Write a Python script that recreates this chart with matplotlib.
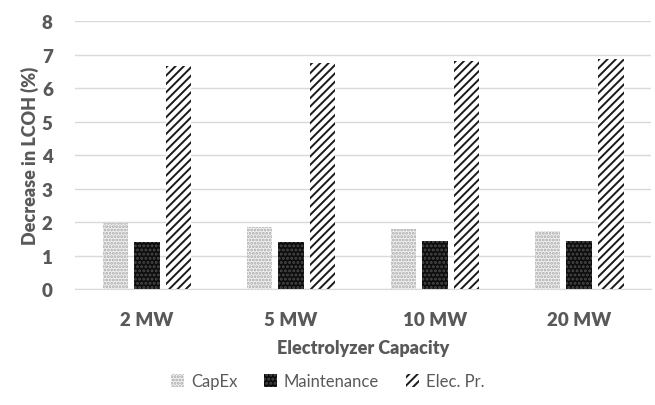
import numpy as np
import matplotlib
matplotlib.use('Agg')
import matplotlib.pyplot as plt

# data
capacities = ['2 MW', '5 MW', '10 MW', '20 MW']
capex = [1.98, 1.85, 1.80, 1.72]
maintenance = [1.40, 1.40, 1.42, 1.44]
elec_price = [6.65, 6.75, 6.81, 6.86]
series_names = ['CapEx', 'Maintenance', 'Elec. Pr.']

plt.rcParams['font.family'] = ['Lato', 'DejaVu Sans']
plt.rcParams['hatch.linewidth'] = 1.4
grey = '#595959'

fig = plt.figure(figsize=(6.55, 4.06), dpi=100)
ax = fig.add_axes([0.1145, 0.2857, 0.8794, 0.6601])

x = np.arange(len(capacities))
w = 0.174
step = 0.222

# CapEx - light dotted grey
b1 = ax.bar(x - step, capex, w, color='#f2f2f2', edgecolor='#a8a8a8',
            hatch='.....', linewidth=0, label=series_names[0])
# maintenance - black with small white dots
b2 = ax.bar(x, maintenance, w, color='#0d0d0d', edgecolor='#4a4a4a',
            hatch='....', linewidth=0, label=series_names[1])
# electricity price - diagonal stripes
b3 = ax.bar(x + step, elec_price, w, color='white', edgecolor='#1a1a1a',
            hatch='////', linewidth=0, label=series_names[2])

ax.set_xlim(-0.5, len(capacities) - 0.5)
ax.set_ylim(0, 8)
ax.set_yticks(range(0, 9))
ax.set_xticks(x)
ax.set_xticklabels(capacities)
ax.grid(axis='y', color='#d9d9d9', linewidth=1)
ax.set_axisbelow(True)
for s in ['top', 'right', 'left']:
    ax.spines[s].set_visible(False)
ax.spines['bottom'].set_color('#d9d9d9')
ax.tick_params(length=0, colors=grey, labelsize=13.5)
ax.tick_params(axis='x', pad=16)
ax.tick_params(axis='y', pad=16)
for lbl in ax.get_xticklabels() + ax.get_yticklabels():
    lbl.set_fontweight('heavy')

ax.set_ylabel('Decrease in LCOH (%)', fontsize=13, fontweight='heavy', color=grey, labelpad=2)
ax.set_xlabel('Electrolyzer Capacity', fontsize=13, fontweight='heavy', color=grey, labelpad=8)

leg = fig.legend(handles=[b1, b2, b3], loc='center', bbox_to_anchor=(0.5, 0.058),
                 ncol=3, frameon=False, fontsize=12, handlelength=0.8,
                 handleheight=0.8, columnspacing=1.6, handletextpad=0.4)
for t in leg.get_texts():
    t.set_color(grey)

fig.savefig('out.png', dpi=100)
